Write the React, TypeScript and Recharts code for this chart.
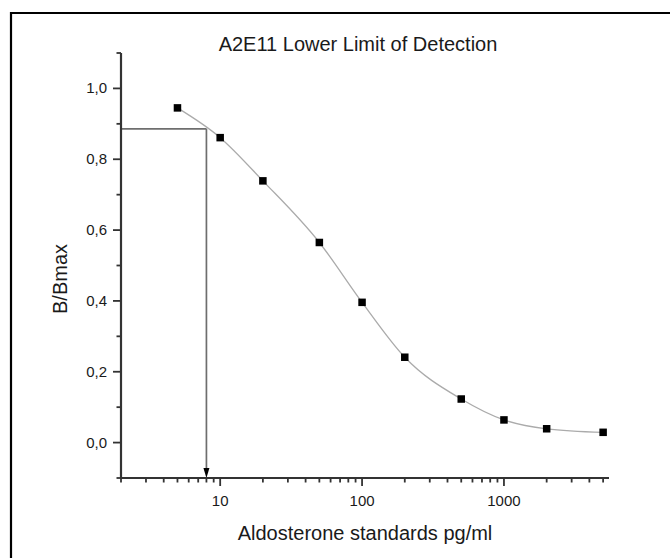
import React from "react";
import { ComposedChart, Line, XAxis, YAxis, ReferenceLine } from "recharts";

// aldosterone standards (pg/ml) and measured B/Bmax
const concentrations = [5, 10, 20, 50, 100, 200, 500, 1000, 2000, 5000];
const bBmax = [0.945, 0.861, 0.739, 0.565, 0.396, 0.241, 0.123, 0.064, 0.039, 0.029];

// log axis ticks, majors get a label
const xTicks = [
  2, 3, 4, 5, 6, 7, 8, 9,
  10, 20, 30, 40, 50, 60, 70, 80, 90,
  100, 200, 300, 400, 500, 600, 700, 800, 900,
  1000, 2000, 3000, 4000, 5000,
];
const xMajor = [10, 100, 1000];
const yTicks = [-0.1, 0, 0.1, 0.2, 0.3, 0.4, 0.5, 0.6, 0.7, 0.8, 0.9, 1.0, 1.1];
const yMajor = [0, 0.2, 0.4, 0.6, 0.8, 1.0];

// lower limit of detection read-off
const lodX = 8;
const lodY = 0.886;

const data = concentrations.map((c, i) => ({ conc: c, b: bBmax[i] }));

const font = "Arial, 'Liberation Sans', Helvetica, sans-serif";
const axisColor = "#333";
const textColor = "#1a1a1a";

const fmtComma = (v: number) => v.toFixed(1).replace(".", ",");

const XTick = (props: any) => {
  const { x, y, payload } = props;
  const major = xMajor.includes(payload.value);
  return (
    <g>
      <line x1={x} y1={y} x2={x} y2={y + (major ? 8 : 4.5)} stroke={axisColor} strokeWidth={1.8} />
      {major && (
        <text x={x} y={y + 28} textAnchor="middle" fontSize={15} fontFamily={font} fill={textColor}>
          {payload.value}
        </text>
      )}
    </g>
  );
};

const YTick = (props: any) => {
  const { x, y, payload } = props;
  const major = yMajor.some((m) => Math.abs(m - payload.value) < 1e-6);
  return (
    <g>
      <line x1={x} y1={y} x2={x - (major ? 8 : 4.5)} y2={y} stroke={axisColor} strokeWidth={1.8} />
      {major && (
        <text x={x - 14} y={y + 5} textAnchor="end" fontSize={15} fontFamily={font} fill={textColor}>
          {fmtComma(payload.value)}
        </text>
      )}
    </g>
  );
};

const SquareDot = (props: any) => {
  const { cx, cy, index } = props;
  return <rect key={`sq-${index}`} x={cx - 3.75} y={cy - 3.75} width={7.5} height={7.5} fill="#000" />;
};

const ArrowDown = (props: any) => {
  const { x1, y1, x2, y2 } = props;
  return (
    <g>
      <line x1={x1} y1={y1} x2={x2} y2={y2 - 8} stroke="#6e6e6e" strokeWidth={1.7} />
      <polygon points={`${x2 - 3},${y2 - 10} ${x2 + 3},${y2 - 10} ${x2},${y2}`} fill="#000" />
    </g>
  );
};

export default function App() {
  return (
    <div style={{ position: "absolute", left: 0, top: 0, width: 670, height: 558, background: "#fff" }}>
      <ComposedChart
        width={670}
        height={558}
        data={data}
        margin={{ top: 53, right: 61, left: 61, bottom: 0 }}
      >
        <XAxis
          dataKey="conc"
          type="number"
          scale="log"
          domain={[2, 5500]}
          allowDataOverflow
          ticks={xTicks}
          interval={0}
          tickSize={0}
          tickMargin={0}
          tickLine={false}
          tick={<XTick />}
          height={80}
          axisLine={{ stroke: axisColor, strokeWidth: 2.2 }}
        />
        <YAxis
          type="number"
          domain={[-0.1, 1.1]}
          allowDataOverflow
          ticks={yTicks}
          interval={0}
          tickSize={0}
          tickMargin={0}
          tickLine={false}
          tick={<YTick />}
          width={60}
          axisLine={{ stroke: axisColor, strokeWidth: 2.2 }}
        />
        <ReferenceLine
          segment={[{ x: 2, y: lodY }, { x: lodX, y: lodY }]}
          stroke="#6e6e6e"
          strokeWidth={1.7}
        />
        <ReferenceLine
          segment={[{ x: lodX, y: lodY }, { x: lodX, y: -0.1 }]}
          shape={(p: any) => <ArrowDown {...p} />}
        />
        <Line
          dataKey="b"
          type="monotone"
          stroke="#ababab"
          strokeWidth={1.3}
          dot={<SquareDot />}
          activeDot={false}
          isAnimationActive={false}
        />
      </ComposedChart>
      <svg
        width={670}
        height={558}
        style={{ position: "absolute", left: 0, top: 0, pointerEvents: "none" }}
      >
        <line x1={10} y1={13} x2={670} y2={13} stroke="#000" strokeWidth={2.2} />
        <line x1={11} y1={12} x2={11} y2={558} stroke="#000" strokeWidth={2.2} />
        <text x={358} y={51} textAnchor="middle" fontSize={20} fontFamily={font} fill={textColor}>
          A2E11 Lower Limit of Detection
        </text>
        <text
          x={67}
          y={279}
          textAnchor="middle"
          fontSize={20}
          fontFamily={font}
          fill={textColor}
          transform="rotate(-90 67 279)"
        >
          B/Bmax
        </text>
        <text x={365} y={540} textAnchor="middle" fontSize={20} fontFamily={font} fill={textColor}>
          Aldosterone standards pg/ml
        </text>
      </svg>
    </div>
  );
}
